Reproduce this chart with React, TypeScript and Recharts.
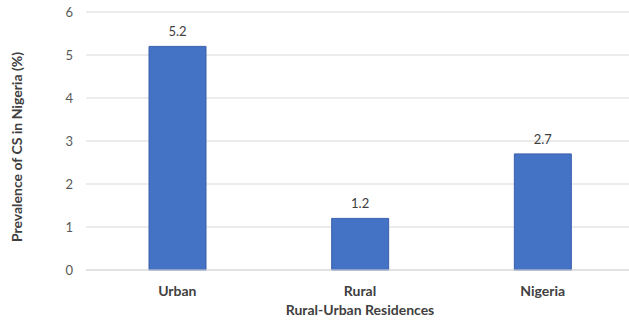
import React from "react";
import { BarChart, Bar, XAxis, YAxis, CartesianGrid, LabelList } from "recharts";

const categories = ["Urban", "Rural", "Nigeria"];
const prevalence = [5.2, 1.2, 2.7];
const yTicks = [0, 1, 2, 3, 4, 5, 6];

const data = categories.map((name, i) => ({ name, value: prevalence[i] }));

const FONT = "Lato, 'Liberation Sans', sans-serif";

const YTitle = (props: any) => {
  const vb = props.viewBox || {};
  const x = (vb.x || 0) + 16;
  const y = (vb.y || 0) + (vb.height || 0) / 2 + 6;
  return (
    <text
      x={x}
      y={y}
      transform={`rotate(-90, ${x}, ${y})`}
      textAnchor="middle"
      dominantBaseline="central"
      fill="#404040"
      fontSize={14}
      fontWeight={700}
      fontFamily={FONT}
    >
      Prevalence of CS in Nigeria (%)
    </text>
  );
};

export default function App() {
  return (
    <div style={{ position: "absolute", left: 0, top: 0, width: 629, height: 323, overflow: "hidden", background: "#fff" }}>
      <BarChart
        width={634}
        height={323}
        data={data}
        margin={{ top: 12, right: 0, left: 0, bottom: 0 }}
        barSize={57}
      >
        <CartesianGrid vertical={false} stroke="#D9D9D9" strokeWidth={1} />
        <XAxis
          dataKey="name"
          height={53}
          axisLine={{ stroke: "#D9D9D9" }}
          tickLine={false}
          tickSize={0}
          tickMargin={16}
          tick={{ fill: "#404040", fontSize: 14, fontWeight: 700, fontFamily: FONT }}
          label={{
            value: "Rural-Urban Residences",
            position: "insideBottom",
            offset: 8,
            fill: "#404040",
            fontSize: 14,
            fontWeight: 700,
            fontFamily: FONT,
          }}
        />
        <YAxis
          width={86}
          domain={[0, 6]}
          ticks={yTicks}
          axisLine={false}
          tickLine={false}
          tickSize={0}
          tickMargin={13}
          tick={{ fill: "#595959", fontSize: 13, fontFamily: FONT }}
          label={<YTitle />}
        />
        <Bar dataKey="value" fill="#4472C4" stroke="#3D5FAE" strokeWidth={1} isAnimationActive={false}>
          <LabelList
            dataKey="value"
            position="top"
            offset={10}
            fill="#404040"
            fontSize={13}
            fontFamily={FONT}
          />
        </Bar>
      </BarChart>
    </div>
  );
}
